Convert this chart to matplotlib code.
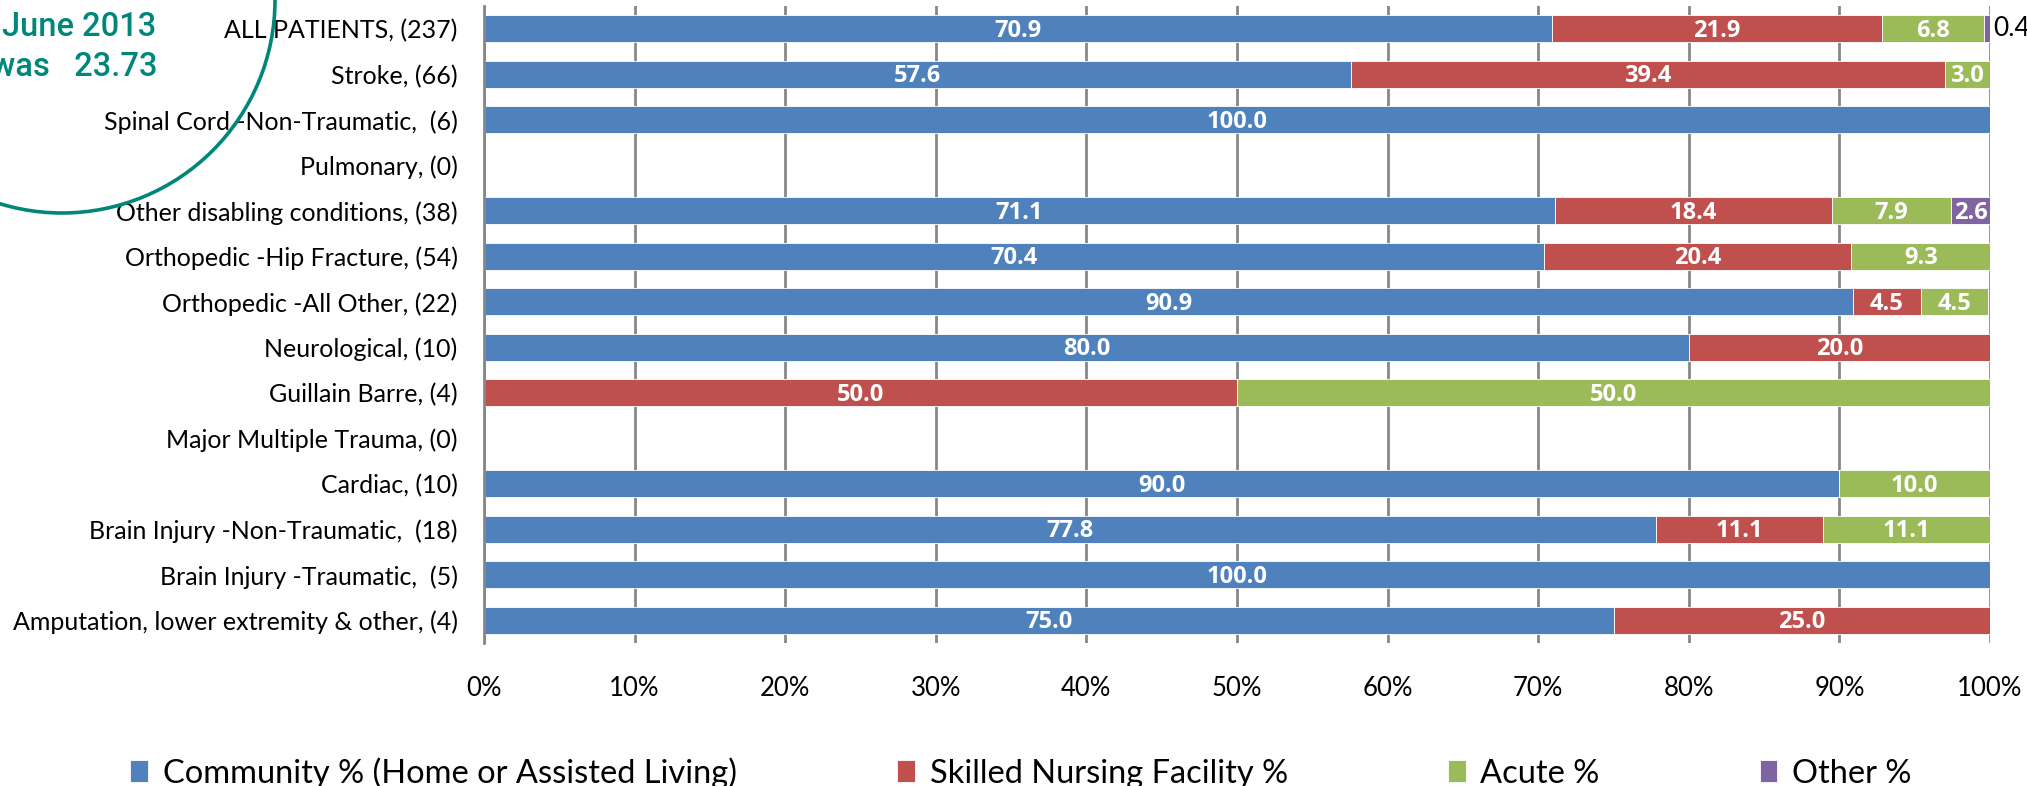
import matplotlib
matplotlib.use("Agg")
import matplotlib.pyplot as plt
from matplotlib.patches import Circle
import numpy as np

# categories, top to bottom
categories = [
    "ALL PATIENTS, (237)",
    "Stroke, (66)",
    "Spinal Cord -Non-Traumatic,  (6)",
    "Pulmonary, (0)",
    "Other disabling conditions, (38)",
    "Orthopedic -Hip Fracture, (54)",
    "Orthopedic -All Other, (22)",
    "Neurological, (10)",
    "Guillain Barre, (4)",
    "Major Multiple Trauma, (0)",
    "Cardiac, (10)",
    "Brain Injury -Non-Traumatic,  (18)",
    "Brain Injury -Traumatic,  (5)",
    "Amputation, lower extremity & other, (4)",
]

community = [70.9, 57.6, 100.0, 0, 71.1, 70.4, 90.9, 80.0, 0, 0, 90.0, 77.8, 100.0, 75.0]
nursing = [21.9, 39.4, 0, 0, 18.4, 20.4, 4.5, 20.0, 50.0, 0, 0, 11.1, 0, 25.0]
acute = [6.8, 3.0, 0, 0, 7.9, 9.3, 4.5, 0, 50.0, 0, 10.0, 11.1, 0, 0]
other = [0.4, 0, 0, 0, 2.6, 0, 0, 0, 0, 0, 0, 0, 0, 0]

series_names = ["Community % (Home or Assisted Living)", "Skilled Nursing Facility %",
                "Acute %", "Other %"]
colors = ["#4F81BD", "#C0504D", "#9BBB59", "#8064A2"]

font = "Lato"
bold_font = "Open Sans"

fig = plt.figure(figsize=(20.27, 7.86), dpi=100)
ax = fig.add_axes([484 / 2027, 1 - 643 / 786, (1990 - 484) / 2027, (643 - 6) / 786])

y = np.arange(len(categories))
left = np.zeros(len(categories))
for name, vals, col in zip(series_names, [community, nursing, acute, other], colors):
    vals = np.array(vals, dtype=float)
    bars = ax.barh(y, vals, left=left, height=0.6, color=col, label=name,
                   edgecolor="white", linewidth=0.6, zorder=2)
    for b, v, l in zip(bars, vals, left):
        if v <= 0:
            continue
        if v < 1:
            # too small to hold its label: put it outside in black
            ax.text(l + v + 0.2, b.get_y() + b.get_height() / 2, f"{v:.1f}",
                    ha="left", va="center", color="black", fontsize=19,
                    family=font, zorder=3, clip_on=False)
        else:
            ax.text(l + v / 2, b.get_y() + b.get_height() / 2 + 0.04, f"{v:.1f}",
                    ha="center", va="center", color="white", fontsize=17,
                    fontweight="bold", family=bold_font, zorder=3)
    left = left + vals

ax.set_xlim(0, 100)
ax.set_ylim(len(categories) - 0.5, -0.5)
ax.set_yticks(y)
ax.set_yticklabels(categories, family=font, fontsize=18)
ax.set_xticks(np.arange(0, 101, 10))
ax.set_xticklabels([f"{t}%" for t in range(0, 101, 10)], family=font, fontsize=18.5)
ax.tick_params(axis="y", length=0, pad=19)
ax.tick_params(axis="x", length=0, pad=24)

ax.grid(axis="x", color="#878787", linewidth=2, zorder=0)
ax.set_axisbelow(True)
for s in ["top", "right", "bottom"]:
    ax.spines[s].set_visible(False)
ax.spines["left"].set_color("#878787")
ax.spines["left"].set_linewidth(2)

fig.legend(loc="center", bbox_to_anchor=(0.5037, 1 - 773 / 786), ncol=4, frameon=False,
           prop={"family": font, "size": 23.5}, handlelength=0.55, handleheight=0.65,
           handletextpad=0.45, columnspacing=4.9)

# teal callout circle partly off the top-left corner
teal = "#00877A"
fig.add_artist(Circle((0.62, 7.86), 2.13, transform=fig.dpi_scale_trans,
                      fill=False, edgecolor=teal, linewidth=2.6))
fig.text(2 / 2027, 1 - 27 / 786, "June 2013", color=teal, fontsize=23.5,
         family="Roboto", fontweight="medium", ha="left", va="center")
fig.text(-9 / 2027, 1 - 67 / 786, "was   23.73", color=teal, fontsize=23.5,
         family="Roboto", fontweight="medium", ha="left", va="center")
fig.text(74 / 2027, 1 + 15 / 786, "ts", color=teal, fontsize=23.5,
         family="Roboto", fontweight="medium", ha="left", va="center")

fig.savefig("out.png", dpi=100)
